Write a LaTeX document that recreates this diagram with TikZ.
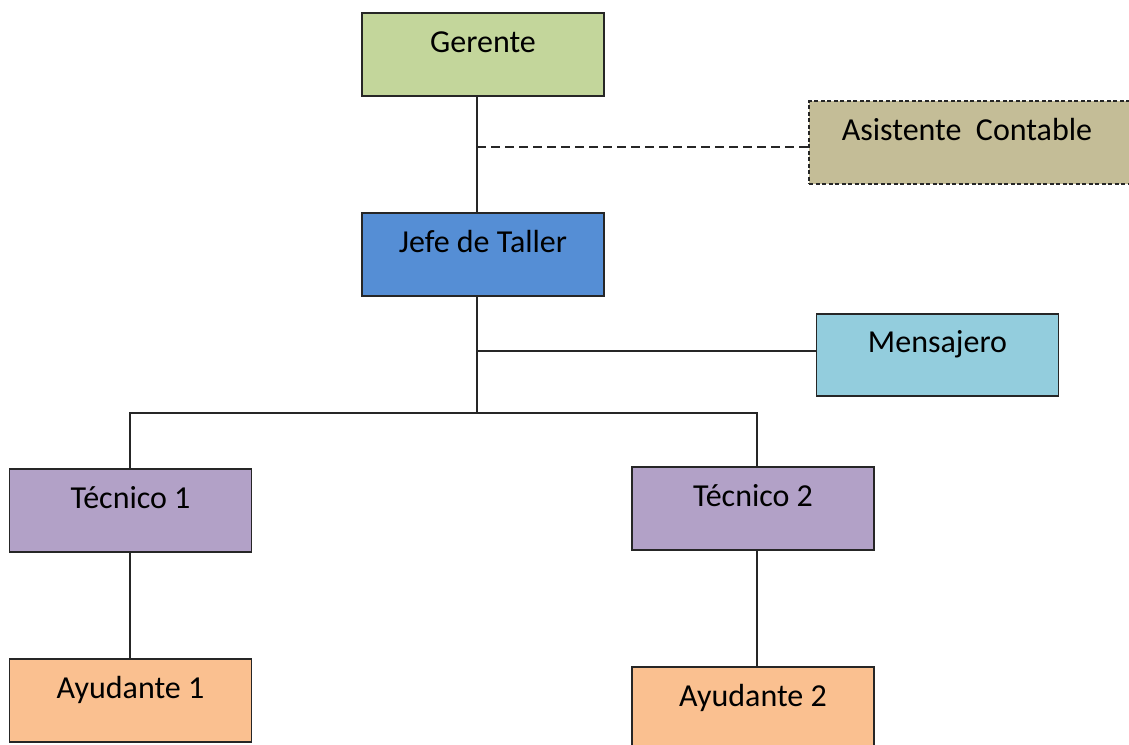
\documentclass[tikz,border=0pt]{standalone}
\usepackage{fontspec}
\setmainfont{Carlito}
\definecolor{verde}{HTML}{C3D69B}
\definecolor{azul}{HTML}{558ED5}
\definecolor{caqui}{HTML}{C4BD97}
\definecolor{celeste}{HTML}{93CDDD}
\definecolor{lila}{HTML}{B2A1C7}
\definecolor{naranja}{HTML}{FAC090}
\begin{document}
\begin{tikzpicture}[x=1pt, y=-1pt,
    rotulo/.style={inner sep=0pt, text height=20pt, text depth=25pt,
                   font=\fontsize{32}{38}\selectfont},
    puesto/.style={rotulo, draw=black!85, line width=1.2pt,
                   minimum width=242pt, minimum height=83pt},
    enlace/.style={draw=black!85, line width=1.2pt}]
                        \useasboundingbox (0,0) rectangle (1129,744);
                        \clip (0,0) rectangle (1129,744);

                        % The boxes
                        \node[puesto, fill=verde] (gerente) at (483,54.5) {Gerente};
                        \node[puesto, fill=azul] (jefe) at (483,254.5) {Jefe de Taller};
                        \node[puesto, fill=caqui, minimum width=340pt, dash pattern=on 4pt off 2.5pt] (asis) at (979,142.5) {};
                        \node[rotulo] (asisTxt) at (967,142.5) {Asistente\ \ Contable};
                        \node[puesto, fill=celeste, minimum height=82pt] (mens) at (937.5,355) {Mensajero};
                        \node[puesto, fill=lila] (tec1) at (130.5,510.5) {Técnico 1};
                        \node[puesto, fill=lila] (tec2) at (753,508.5) {Técnico 2};
                        \node[puesto, fill=naranja] (ayu1) at (130.5,700.5) {Ayudante 1};
                        \node[puesto, fill=naranja] (ayu2) at (753,708.5) {Ayudante 2};

                        % Branch points
                        \coordinate (g1) at (477,147);
                        \coordinate (j1) at (477,351);
                        \coordinate (j2) at (477,413);
                        \coordinate (b1) at (130,413);
                        \coordinate (b2) at (757,413);

                        % The lines
                        \draw[enlace] (g1 |- gerente.south) -- (g1 |- jefe.north);
                        \draw[enlace, dash pattern=on 9pt off 5pt] (g1) -- (g1 -| asis.west);
                        \draw[enlace] (j2 |- jefe.south) -- (j2);
                        \draw[enlace] (j1) -- (j1 -| mens.west);
                        \draw[enlace] (b1 |- tec1.north) -- (b1) -- (b2) -- (b2 |- tec2.north);
                        \draw[enlace] (b1 |- tec1.south) -- (b1 |- ayu1.north);
                        \draw[enlace] (b2 |- tec2.south) -- (b2 |- ayu2.north);

                    \end{tikzpicture}
\end{document}
